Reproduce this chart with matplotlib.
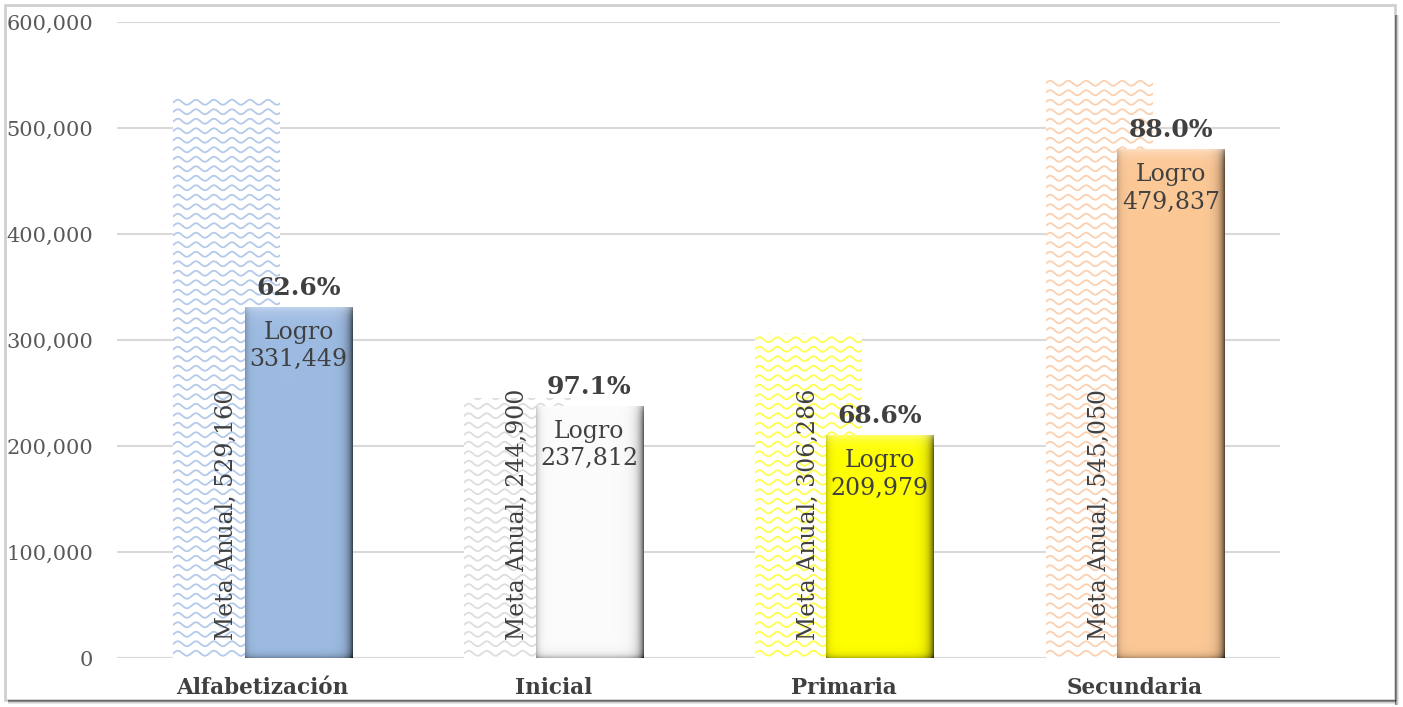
import numpy as np
import matplotlib.pyplot as plt
from matplotlib.patches import Rectangle
from matplotlib.colors import to_rgb

# data
categories = ['Alfabetización', 'Inicial', 'Primaria', 'Secundaria']
meta_anual = [529160, 244900, 306286, 545050]
logro = [331449, 237812, 209979, 479837]
logro_pct = ['62.6%', '97.1%', '68.6%', '88.0%']
yticks = [0, 100000, 200000, 300000, 400000, 500000, 600000]

logro_colors = ['#9DBBE2', '#FFFFFF', '#FFFF00', '#FCC896']
wave_colors = ['#B3CAEA', '#DDDDDD', '#FFFF4D', '#FAD0B0']
text_dark = '#404040'
tick_gray = '#595959'

plt.rcParams['font.family'] = ['DejaVu Serif']

fig = plt.figure(figsize=(14.03, 7.07), dpi=100)
ax = fig.add_axes([0.0834, 0.0693, 0.8290, 0.8996])
ax.set_xlim(-0.5, 3.5)
ax.set_ylim(0, 600000)

# pixel -> data scale factors
ax_w_px = 0.8290 * 1403
ax_h_px = 0.8996 * 707
px_x = 4.0 / ax_w_px
px_y = 600000 / ax_h_px

x = np.arange(len(categories))
width = 0.368
off_meta = -0.122
off_logro = 0.124

ax.set_yticks(yticks)
ax.set_yticklabels([f'{v:,}' for v in yticks], fontsize=15, color=tick_gray)
ax.grid(axis='y', color='#D9D9D9', linewidth=1.5, zorder=0)
ax.set_axisbelow(True)
ax.tick_params(axis='y', length=0, pad=17)
ax.tick_params(axis='x', length=0, pad=14)
for s in ax.spines.values():
    s.set_visible(False)
ax.axhline(0, color='#D9D9D9', linewidth=1.5, zorder=1)

ax.set_xticks(x)
ax.set_xticklabels(categories, fontsize=15.5, fontweight='bold', color=text_dark)

# Meta Anual bars: white with wavy pattern
meta_bars = ax.bar(x + off_meta, meta_anual, width, color='white', zorder=2, linewidth=0)
for bar, col in zip(meta_bars, wave_colors):
    x0, y0 = bar.get_x(), bar.get_y()
    w, h = bar.get_width(), bar.get_height()
    xs = np.linspace(x0, x0 + w, 400)
    period = 18 * px_x
    amp = 2.5 * px_y
    step = 9.5 * px_y
    yy = y0 + step / 2
    while yy < y0 + h + step:
        ln, = ax.plot(xs, yy + amp * np.sin(2 * np.pi * (xs - x0) / period),
                      color=col, linewidth=1.3, zorder=3)
        ln.set_clip_path(bar)
        yy += step

# Logro bars with a bevel-like shading
logro_bars = ax.bar(x + off_logro, logro, width, color=logro_colors, zorder=4, linewidth=0)
for bar, col in zip(logro_bars, logro_colors):
    x0, y0 = bar.get_x(), bar.get_y()
    w, h = bar.get_width(), bar.get_height()
    nx = int(round(w / px_x))
    ny = int(round(h / px_y))
    dx = np.arange(nx)[None, :] + 0.5
    dy = np.arange(ny)[:, None] + 0.5
    shade = np.ones((ny, nx))
    shade -= 0.7 * np.exp(-(nx - dx) / 4.5)
    shade -= 0.25 * np.exp(-dx / 3.0)
    shade -= 0.3 * np.exp(-(ny - dy) / 3.0)
    top = np.exp(-dy / 6.0)
    base = np.array(to_rgb(col))
    if col == '#FFFFFF':
        base = base * 0.985
    img = base[None, None, :] * shade[:, :, None]
    img = img + (1 - img) * (0.45 * top[:, :, None])
    img = np.clip(img, 0, 1)
    im = ax.imshow(img, extent=(x0, x0 + w, y0, y0 + h), origin='upper',
                   aspect='auto', zorder=5, interpolation='bilinear')
    im.set_clip_path(bar)
ax.set_xlim(-0.5, 3.5)
ax.set_ylim(0, 600000)

# labels
for i in range(len(categories)):
    ax.annotate(f'Meta Anual, {meta_anual[i]:,}', xy=(x[i] + off_meta, 0),
                xytext=(0, 13), textcoords='offset points', rotation=90,
                ha='center', va='bottom', fontsize=17, color=text_dark, zorder=6)
    ax.annotate(f'Logro\n{logro[i]:,}', xy=(x[i] + off_logro, logro[i]),
                xytext=(0, -10), textcoords='offset points', ha='center', va='top',
                fontsize=17, color=text_dark, zorder=6, linespacing=1.25)
    ax.annotate(logro_pct[i], xy=(x[i] + off_logro, logro[i]),
                xytext=(0, 5), textcoords='offset points', ha='center', va='bottom',
                fontsize=18, fontweight='bold', color=text_dark, zorder=6)

# outer frame with shadow
fig.patches.append(Rectangle((5 / 1403, 7 / 707), 1390 / 1403, 695 / 707,
                             transform=fig.transFigure, fill=False,
                             edgecolor='#D0D0D0', linewidth=2, zorder=0))
for k, a in enumerate([0.5, 0.35, 0.2, 0.1]):
    fig.patches.append(Rectangle(((1395 + k) / 1403, 2 / 707), 1 / 1403, 690 / 707,
                                 transform=fig.transFigure, color='black', alpha=a,
                                 linewidth=0))
    fig.patches.append(Rectangle((8 / 1403, (6 - k) / 707), 1388 / 1403, 1 / 707,
                                 transform=fig.transFigure, color='black', alpha=a,
                                 linewidth=0))

fig.savefig('out.png', dpi=100)
